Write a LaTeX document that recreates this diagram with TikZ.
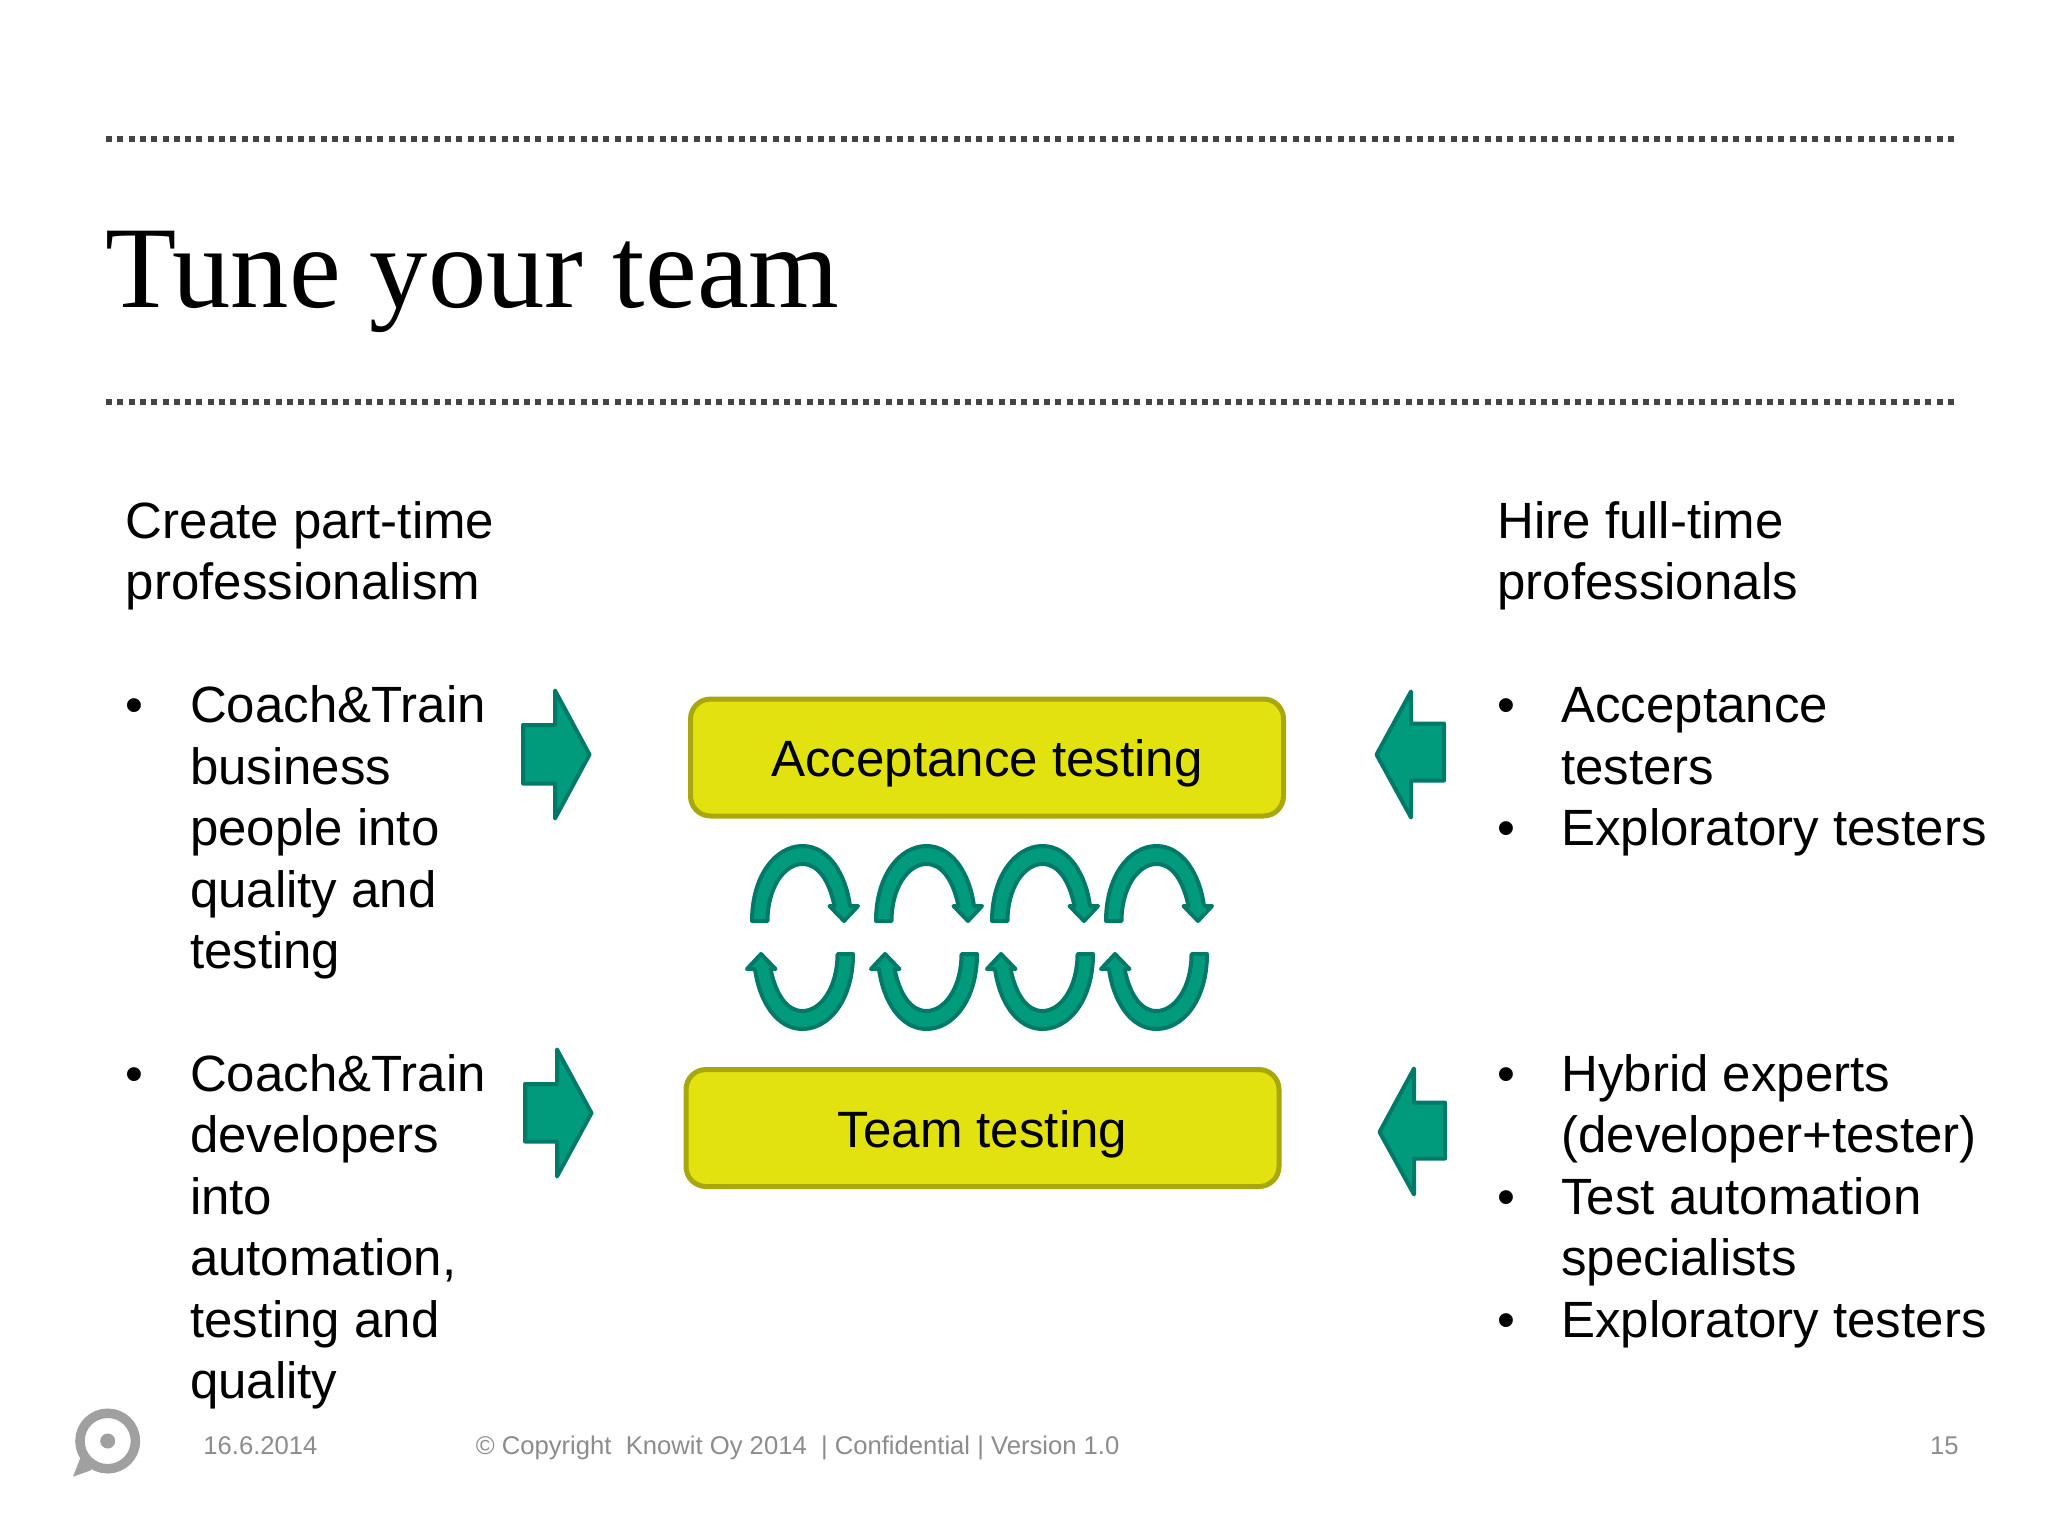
\documentclass[tikz,border=0pt]{standalone}
\usepackage{fontspec}
\setmainfont{Liberation Sans}
\newfontfamily\titlefont{Liberation Serif}
\definecolor{curlfill}{HTML}{009A7C}
\definecolor{curledge}{HTML}{007A68}
\definecolor{boxfill}{HTML}{E2E210}
\definecolor{boxedge}{HTML}{A8A80C}
\definecolor{footgray}{HTML}{8C8C8C}
\definecolor{logogray}{HTML}{A0A0A0}
\definecolor{rulegray}{HTML}{444444}
\tikzset{
  rule/.style={line width=3pt, rulegray, dash pattern=on 3pt off 2.65pt},
  body/.style={inner sep=0pt, anchor=base west, align=left, font=\fontsize{25.5}{30.75}\selectfont},
  foot/.style={inner sep=0pt, anchor=base west, footgray, font=\fontsize{12.82}{15}\selectfont},
  testbox/.style={draw=boxedge, fill=boxfill, line width=2.5pt, rounded corners=10pt,
    minimum width=296.5pt, minimum height=58.5pt, text height=19pt, text depth=0pt,
    inner sep=0pt, font=\fontsize{25.55}{30.75}\selectfont},
  teal/.style={draw=curledge, fill=curlfill, line width=2pt, line join=round}
}
\newcommand{\curl}{
  (752,921) .. controls (752,875) and (776,846) .. (802.5,846)
  .. controls (829,846) and (846,875) .. (850,906)
  -- (858,906) -- (844,921) -- (829.5,906) -- (834.5,906)
  .. controls (829,880) and (818,864) .. (802.5,864)
  .. controls (784,864) and (767.5,888) .. (767.5,921) -- cycle}
\begin{document}
\begin{tikzpicture}[x=0.5pt, y=-0.5pt]
  \useasboundingbox (0,0) rectangle (2048,1536);
  % rules
  \coordinate (ruleAw) at (106,139);
  \coordinate (ruleAe) at (1957,139);
  \coordinate (ruleBw) at (106,402);
  \coordinate (ruleBe) at (1957,402);
  \draw[rule] (ruleAw) -- (ruleAe);
  \draw[rule] (ruleBw) -- (ruleBe);
  \node[inner sep=0pt, anchor=base west, font=\titlefont\fontsize{58.3}{60}\selectfont] (title) at (105,307) {Tune your team};
  % left column
  \node[body] (leftHead) at (125.5,599.7) {Create part-time\\professionalism};
  \node[body] (leftA) at (189.6,968.5) {Coach\&Train\\business\\people into\\quality and\\testing};
  \node[body] (leftB) at (189.6,1398.7) {Coach\&Train\\developers\\into\\automation,\\testing and\\quality};
  % right column
  \node[body] (rightHead) at (1497,599.7) {Hire full-time\\professionals};
  \node[body] (rightA) at (1561,784.2) {Acceptance\\testers};
  \node[body] (rightB) at (1561,845.5) {Exploratory testers};
  \node[body] (rightC) at (1561,1152.5) {Hybrid experts\\(developer+tester)};
  \node[body] (rightD) at (1561,1275.5) {Test automation\\specialists};
  \node[body] (rightE) at (1561,1337) {Exploratory testers};
  % bullets
  \foreach \px/\py/\bname in {125/722.7/la,125/1091.5/lb,1497/722.7/ra,1497/845.5/rb,1497/1091.5/rc,1497/1214.5/rd,1497/1337/re}
    \node[body] (bullet\bname) at (\px,\py) {•};
  % boxes
  \node[testbox] (acceptance) at (987,757.5) {Acceptance testing};
  \node[testbox] (team) at (982.5,1128) {Team testing};
  % block arrows
  \draw[teal] (523,725) -- (555,725) -- (555,690.5) -- (589.5,754.6) -- (555,818.5) -- (555,783.5) -- (523,783.5) -- cycle;
  \draw[teal] (525,1084) -- (557,1084) -- (557,1049.5) -- (591.5,1113) -- (557,1176.5) -- (557,1141.5) -- (525,1141.5) -- cycle;
  \draw[teal] (1444,723.5) -- (1411,723.5) -- (1411,691.5) -- (1376.5,754.6) -- (1411,817.5) -- (1411,780.5) -- (1444,780.5) -- cycle;
  \draw[teal] (1445,1102.5) -- (1414,1102.5) -- (1414,1068.5) -- (1379.5,1132) -- (1414,1194.5) -- (1414,1158.5) -- (1445,1158.5) -- cycle;
  % curls
  \foreach \dx in {0,124,240,354} {
    \draw[teal, shift={(\dx,0)}] \curl;
    \draw[teal, shift={(\dx,0)}, rotate around={180:(802.5,937.5)}] \curl;
  }
  % footer
  \fill[logogray] (80.7,1457) -- (73,1476.7) -- (91.7,1470) -- cycle;
  \draw[logogray, line width=4.75pt] (107.7,1441) circle (27.75);
  \fill[logogray] (107.7,1441) circle (7.5);
  \node[foot] (date) at (203,1454) {16.6.2014};
  \node[foot] (copyright) at (475.4,1454) {© Copyright\ \ Knowit Oy 2014\ \ | Confidential | Version 1.0};
  \node[foot, anchor=base east] (page) at (1959,1454) {15};
\end{tikzpicture}
\end{document}
